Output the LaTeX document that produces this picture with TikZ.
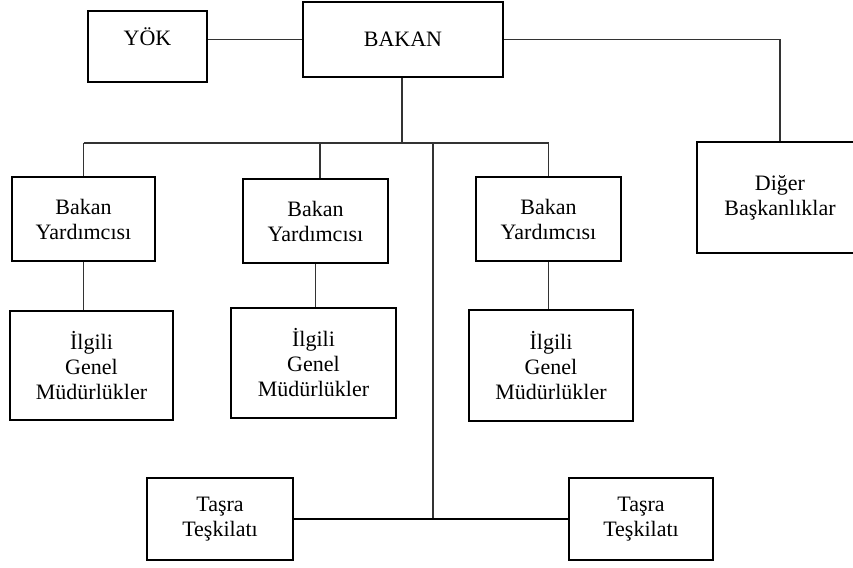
\documentclass[tikz,border=0pt]{standalone}
\usepackage{fontspec}
\setmainfont{Liberation Serif}
\begin{document}
\begin{tikzpicture}[x=1pt,y=-1pt,
  box/.style={draw=black,line width=1.8pt,align=center,inner sep=0pt,
    font=\fontsize{22}{25}\selectfont},
  conn/.style={draw=black!80,line width=1.2pt},
  thickconn/.style={draw=black,line width=1.8pt}]
\clip (0,0) rectangle (853,567);
% top level
\node[box,minimum width=119pt,minimum height=71pt,text height=15pt,text depth=17pt] (yok) at (147.5,46.5) {YÖK};
\node[box,minimum width=200pt,minimum height=75pt] (bakan) at (403,39.5) {BAKAN};
\node[box,minimum width=166pt,minimum height=111pt] (diger) at (780,197.5) {Diğer\\Başkanlıklar};
% deputies
\node[box,minimum width=143pt,minimum height=84pt] (by1) at (83.5,219) {Bakan\\Yardımcısı};
\node[box,minimum width=145pt,minimum height=84pt] (by2) at (315.5,221) {Bakan\\Yardımcısı};
\node[box,minimum width=145pt,minimum height=84pt] (by3) at (548.5,219) {Bakan\\Yardımcısı};
% directorates
\node[box,minimum width=163pt,minimum height=109pt] (ig1) at (91.5,365.5) {İlgili\\Genel\\Müdürlükler};
\node[box,minimum width=165pt,minimum height=110pt] (ig2) at (313.5,363) {İlgili\\Genel\\Müdürlükler};
\node[box,minimum width=164pt,minimum height=111pt] (ig3) at (551,365.5) {İlgili\\Genel\\Müdürlükler};
% provincial
\node[box,minimum width=146pt,minimum height=82pt] (t1) at (220,519) {Taşra\\Teşkilatı};
\node[box,minimum width=144pt,minimum height=82pt] (t2) at (641,519) {Taşra\\Teşkilatı};
% coordinates
\coordinate (bus) at (402,143);
\coordinate (d2) at (320,143);
\coordinate (trunk) at (433,143);
% connectors
\draw[conn] (yok.east |- bakan.west) -- (bakan.west);
\draw[conn] (bakan.east) -- (diger.north |- bakan.east) -- (diger.north);
\draw[conn] (bakan.south -| bus) -- (bus);
\draw[conn] (by1.north |- bus) -- (by3.north |- bus);
\draw[conn] (by1.north |- bus) -- (by1.north);
\draw[conn] (d2) -- (d2 |- by2.north);
\draw[conn] (by3.north |- bus) -- (by3.north);
\draw[conn] (by1.south) -- (by1.south |- ig1.north);
\draw[conn] (by2.south) -- (by2.south |- ig2.north);
\draw[conn] (by3.south) -- (by3.south |- ig3.north);
\draw[conn] (trunk) -- (trunk |- t1.east);
\draw[thickconn] (t1.east) -- (t2.west);
\end{tikzpicture}
\end{document}
